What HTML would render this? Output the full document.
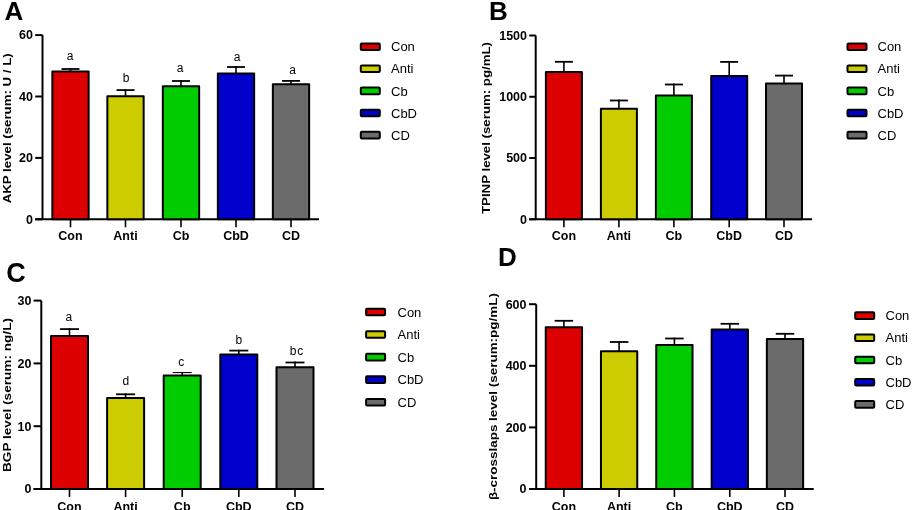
<!DOCTYPE html>
<html><head><meta charset="utf-8"><style>
html,body{margin:0;padding:0;background:#fff;width:912px;height:510px;overflow:hidden}
svg{display:block;will-change:transform}
text{font-family:"Liberation Sans", sans-serif;fill:#000}
</style></head><body>
<svg width="912" height="510" viewBox="0 0 912 510" shape-rendering="auto">
<line x1="42.5" y1="35.1" x2="42.5" y2="219.3" stroke="#000" stroke-width="2"/>
<line x1="35.2" y1="219.3" x2="319" y2="219.3" stroke="#000" stroke-width="2"/>
<line x1="35.2" y1="219.30" x2="42.5" y2="219.30" stroke="#000" stroke-width="2"/>
<text x="33" y="223.60" text-anchor="end" font-size="12.5" font-weight="bold">0</text>
<line x1="35.2" y1="157.90" x2="42.5" y2="157.90" stroke="#000" stroke-width="2"/>
<text x="33" y="162.20" text-anchor="end" font-size="12.5" font-weight="bold">20</text>
<line x1="35.2" y1="96.50" x2="42.5" y2="96.50" stroke="#000" stroke-width="2"/>
<text x="33" y="100.80" text-anchor="end" font-size="12.5" font-weight="bold">40</text>
<line x1="35.2" y1="35.10" x2="42.5" y2="35.10" stroke="#000" stroke-width="2"/>
<text x="33" y="39.40" text-anchor="end" font-size="12.5" font-weight="bold">60</text>
<rect x="52.35" y="71.50" width="36.30" height="147.80" fill="#dd0000" stroke="#000" stroke-width="2" stroke-linejoin="round"/>
<line x1="70.50" y1="68.10" x2="70.50" y2="71.50" stroke="#000" stroke-width="1.6"/>
<line x1="61.50" y1="69.00" x2="79.50" y2="69.00" stroke="#000" stroke-width="1.8"/>
<line x1="70.50" y1="219.3" x2="70.50" y2="227.3" stroke="#000" stroke-width="1.6"/>
<text x="70.50" y="240.3" text-anchor="middle" font-size="12.5" font-weight="bold">Con</text>
<text x="70.20" y="60.30" text-anchor="middle" font-size="12">a</text>
<rect x="107.35" y="96.20" width="36.30" height="123.10" fill="#cccc00" stroke="#000" stroke-width="2" stroke-linejoin="round"/>
<line x1="125.50" y1="89.20" x2="125.50" y2="96.20" stroke="#000" stroke-width="1.6"/>
<line x1="116.50" y1="90.10" x2="134.50" y2="90.10" stroke="#000" stroke-width="1.8"/>
<line x1="125.50" y1="219.3" x2="125.50" y2="227.3" stroke="#000" stroke-width="1.6"/>
<text x="125.50" y="240.3" text-anchor="middle" font-size="12.5" font-weight="bold">Anti</text>
<text x="126.20" y="82.00" text-anchor="middle" font-size="12">b</text>
<rect x="162.85" y="86.20" width="36.30" height="133.10" fill="#00cc00" stroke="#000" stroke-width="2" stroke-linejoin="round"/>
<line x1="181.00" y1="80.10" x2="181.00" y2="86.20" stroke="#000" stroke-width="1.6"/>
<line x1="172.00" y1="81.00" x2="190.00" y2="81.00" stroke="#000" stroke-width="1.8"/>
<line x1="181.00" y1="219.3" x2="181.00" y2="227.3" stroke="#000" stroke-width="1.6"/>
<text x="181.00" y="240.3" text-anchor="middle" font-size="12.5" font-weight="bold">Cb</text>
<text x="180.00" y="72.30" text-anchor="middle" font-size="12">a</text>
<rect x="217.85" y="73.40" width="36.30" height="145.90" fill="#0000cc" stroke="#000" stroke-width="2" stroke-linejoin="round"/>
<line x1="236.00" y1="66.10" x2="236.00" y2="73.40" stroke="#000" stroke-width="1.6"/>
<line x1="227.00" y1="67.00" x2="245.00" y2="67.00" stroke="#000" stroke-width="1.8"/>
<line x1="236.00" y1="219.3" x2="236.00" y2="227.3" stroke="#000" stroke-width="1.6"/>
<text x="236.00" y="240.3" text-anchor="middle" font-size="12.5" font-weight="bold">CbD</text>
<text x="237.00" y="60.50" text-anchor="middle" font-size="12">a</text>
<rect x="272.85" y="84.30" width="36.30" height="135.00" fill="#6b6b6b" stroke="#000" stroke-width="2" stroke-linejoin="round"/>
<line x1="291.00" y1="80.00" x2="291.00" y2="84.30" stroke="#000" stroke-width="1.6"/>
<line x1="282.00" y1="80.90" x2="300.00" y2="80.90" stroke="#000" stroke-width="1.8"/>
<line x1="291.00" y1="219.3" x2="291.00" y2="227.3" stroke="#000" stroke-width="1.6"/>
<text x="291.00" y="240.3" text-anchor="middle" font-size="12.5" font-weight="bold">CD</text>
<text x="292.50" y="73.70" text-anchor="middle" font-size="12">a</text>
<text transform="translate(11.2,128.3) rotate(-90)" text-anchor="middle" font-size="11.5" font-weight="bold" textLength="150" lengthAdjust="spacingAndGlyphs">AKP level (serum: U / L)</text>
<text x="4.6" y="19.8" font-size="26" font-weight="bold">A</text>
<rect x="360.80" y="43.40" width="19" height="6.6" rx="1" fill="#dd0000" stroke="#000" stroke-width="2" stroke-linejoin="round"/>
<text x="391.00" y="51.30" font-size="13">Con</text>
<rect x="360.80" y="65.50" width="19" height="6.6" rx="1" fill="#cccc00" stroke="#000" stroke-width="2" stroke-linejoin="round"/>
<text x="391.00" y="73.40" font-size="13">Anti</text>
<rect x="360.80" y="87.60" width="19" height="6.6" rx="1" fill="#00cc00" stroke="#000" stroke-width="2" stroke-linejoin="round"/>
<text x="391.00" y="95.50" font-size="13">Cb</text>
<rect x="360.80" y="109.70" width="19" height="6.6" rx="1" fill="#0000cc" stroke="#000" stroke-width="2" stroke-linejoin="round"/>
<text x="391.00" y="117.60" font-size="13">CbD</text>
<rect x="360.80" y="131.80" width="19" height="6.6" rx="1" fill="#6b6b6b" stroke="#000" stroke-width="2" stroke-linejoin="round"/>
<text x="391.00" y="139.70" font-size="13">CD</text>
<line x1="535.7" y1="35.5" x2="535.7" y2="219.3" stroke="#000" stroke-width="2"/>
<line x1="529.2" y1="219.3" x2="812.1" y2="219.3" stroke="#000" stroke-width="2"/>
<line x1="529.2" y1="219.30" x2="535.7" y2="219.30" stroke="#000" stroke-width="2"/>
<text x="527" y="223.60" text-anchor="end" font-size="12.5" font-weight="bold">0</text>
<line x1="529.2" y1="158.03" x2="535.7" y2="158.03" stroke="#000" stroke-width="2"/>
<text x="527" y="162.33" text-anchor="end" font-size="12.5" font-weight="bold">500</text>
<line x1="529.2" y1="96.77" x2="535.7" y2="96.77" stroke="#000" stroke-width="2"/>
<text x="527" y="101.07" text-anchor="end" font-size="12.5" font-weight="bold">1000</text>
<line x1="529.2" y1="35.50" x2="535.7" y2="35.50" stroke="#000" stroke-width="2"/>
<text x="527" y="39.80" text-anchor="end" font-size="12.5" font-weight="bold">1500</text>
<rect x="545.90" y="72.10" width="36.00" height="147.20" fill="#dd0000" stroke="#000" stroke-width="2" stroke-linejoin="round"/>
<line x1="563.90" y1="60.90" x2="563.90" y2="72.10" stroke="#000" stroke-width="1.6"/>
<line x1="554.90" y1="61.80" x2="572.90" y2="61.80" stroke="#000" stroke-width="1.8"/>
<line x1="563.90" y1="219.3" x2="563.90" y2="227.3" stroke="#000" stroke-width="1.6"/>
<text x="563.90" y="240.3" text-anchor="middle" font-size="12.5" font-weight="bold">Con</text>
<rect x="600.90" y="108.80" width="36.00" height="110.50" fill="#cccc00" stroke="#000" stroke-width="2" stroke-linejoin="round"/>
<line x1="618.90" y1="99.60" x2="618.90" y2="108.80" stroke="#000" stroke-width="1.6"/>
<line x1="609.90" y1="100.50" x2="627.90" y2="100.50" stroke="#000" stroke-width="1.8"/>
<line x1="618.90" y1="219.3" x2="618.90" y2="227.3" stroke="#000" stroke-width="1.6"/>
<text x="618.90" y="240.3" text-anchor="middle" font-size="12.5" font-weight="bold">Anti</text>
<rect x="655.90" y="95.60" width="36.00" height="123.70" fill="#00cc00" stroke="#000" stroke-width="2" stroke-linejoin="round"/>
<line x1="673.90" y1="83.60" x2="673.90" y2="95.60" stroke="#000" stroke-width="1.6"/>
<line x1="664.90" y1="84.50" x2="682.90" y2="84.50" stroke="#000" stroke-width="1.8"/>
<line x1="673.90" y1="219.3" x2="673.90" y2="227.3" stroke="#000" stroke-width="1.6"/>
<text x="673.90" y="240.3" text-anchor="middle" font-size="12.5" font-weight="bold">Cb</text>
<rect x="711.20" y="76.10" width="36.00" height="143.20" fill="#0000cc" stroke="#000" stroke-width="2" stroke-linejoin="round"/>
<line x1="729.20" y1="61.00" x2="729.20" y2="76.10" stroke="#000" stroke-width="1.6"/>
<line x1="720.20" y1="61.90" x2="738.20" y2="61.90" stroke="#000" stroke-width="1.8"/>
<line x1="729.20" y1="219.3" x2="729.20" y2="227.3" stroke="#000" stroke-width="1.6"/>
<text x="729.20" y="240.3" text-anchor="middle" font-size="12.5" font-weight="bold">CbD</text>
<rect x="766.00" y="83.40" width="36.00" height="135.90" fill="#6b6b6b" stroke="#000" stroke-width="2" stroke-linejoin="round"/>
<line x1="784.00" y1="74.70" x2="784.00" y2="83.40" stroke="#000" stroke-width="1.6"/>
<line x1="775.00" y1="75.60" x2="793.00" y2="75.60" stroke="#000" stroke-width="1.8"/>
<line x1="784.00" y1="219.3" x2="784.00" y2="227.3" stroke="#000" stroke-width="1.6"/>
<text x="784.00" y="240.3" text-anchor="middle" font-size="12.5" font-weight="bold">CD</text>
<text transform="translate(490,128) rotate(-90)" text-anchor="middle" font-size="11.5" font-weight="bold" textLength="172" lengthAdjust="spacingAndGlyphs">TPINP level (serum: pg/mL)</text>
<text x="489" y="19.8" font-size="26" font-weight="bold">B</text>
<rect x="847.50" y="43.40" width="19" height="6.6" rx="1" fill="#dd0000" stroke="#000" stroke-width="2" stroke-linejoin="round"/>
<text x="877.50" y="51.30" font-size="13">Con</text>
<rect x="847.50" y="65.50" width="19" height="6.6" rx="1" fill="#cccc00" stroke="#000" stroke-width="2" stroke-linejoin="round"/>
<text x="877.50" y="73.40" font-size="13">Anti</text>
<rect x="847.50" y="87.60" width="19" height="6.6" rx="1" fill="#00cc00" stroke="#000" stroke-width="2" stroke-linejoin="round"/>
<text x="877.50" y="95.50" font-size="13">Cb</text>
<rect x="847.50" y="109.70" width="19" height="6.6" rx="1" fill="#0000cc" stroke="#000" stroke-width="2" stroke-linejoin="round"/>
<text x="877.50" y="117.60" font-size="13">CbD</text>
<rect x="847.50" y="131.80" width="19" height="6.6" rx="1" fill="#6b6b6b" stroke="#000" stroke-width="2" stroke-linejoin="round"/>
<text x="877.50" y="139.70" font-size="13">CD</text>
<line x1="41.3" y1="300.6" x2="41.3" y2="489" stroke="#000" stroke-width="2"/>
<line x1="33.6" y1="489" x2="324" y2="489" stroke="#000" stroke-width="2"/>
<line x1="33.6" y1="489.00" x2="41.3" y2="489.00" stroke="#000" stroke-width="2"/>
<text x="31.5" y="493.30" text-anchor="end" font-size="12.5" font-weight="bold">0</text>
<line x1="33.6" y1="426.20" x2="41.3" y2="426.20" stroke="#000" stroke-width="2"/>
<text x="31.5" y="430.50" text-anchor="end" font-size="12.5" font-weight="bold">10</text>
<line x1="33.6" y1="363.40" x2="41.3" y2="363.40" stroke="#000" stroke-width="2"/>
<text x="31.5" y="367.70" text-anchor="end" font-size="12.5" font-weight="bold">20</text>
<line x1="33.6" y1="300.60" x2="41.3" y2="300.60" stroke="#000" stroke-width="2"/>
<text x="31.5" y="304.90" text-anchor="end" font-size="12.5" font-weight="bold">30</text>
<rect x="51.00" y="335.90" width="37.00" height="153.10" fill="#dd0000" stroke="#000" stroke-width="2" stroke-linejoin="round"/>
<line x1="69.50" y1="328.20" x2="69.50" y2="335.90" stroke="#000" stroke-width="1.6"/>
<line x1="60.00" y1="329.10" x2="79.00" y2="329.10" stroke="#000" stroke-width="1.8"/>
<line x1="69.50" y1="489" x2="69.50" y2="497" stroke="#000" stroke-width="1.6"/>
<text x="69.50" y="510.5" text-anchor="middle" font-size="12.5" font-weight="bold">Con</text>
<text x="68.80" y="321.20" text-anchor="middle" font-size="12">a</text>
<rect x="107.10" y="398.10" width="37.00" height="90.90" fill="#cccc00" stroke="#000" stroke-width="2" stroke-linejoin="round"/>
<line x1="125.60" y1="393.40" x2="125.60" y2="398.10" stroke="#000" stroke-width="1.6"/>
<line x1="116.10" y1="394.30" x2="135.10" y2="394.30" stroke="#000" stroke-width="1.8"/>
<line x1="125.60" y1="489" x2="125.60" y2="497" stroke="#000" stroke-width="1.6"/>
<text x="125.60" y="510.5" text-anchor="middle" font-size="12.5" font-weight="bold">Anti</text>
<text x="125.80" y="385.20" text-anchor="middle" font-size="12">d</text>
<rect x="163.70" y="375.50" width="37.00" height="113.50" fill="#00cc00" stroke="#000" stroke-width="2" stroke-linejoin="round"/>
<line x1="182.20" y1="372.00" x2="182.20" y2="375.50" stroke="#000" stroke-width="1.6"/>
<line x1="172.70" y1="372.55" x2="191.70" y2="372.55" stroke="#000" stroke-width="1.1"/>
<line x1="182.20" y1="489" x2="182.20" y2="497" stroke="#000" stroke-width="1.6"/>
<text x="182.20" y="510.5" text-anchor="middle" font-size="12.5" font-weight="bold">Cb</text>
<text x="181.20" y="365.50" text-anchor="middle" font-size="12">c</text>
<rect x="220.30" y="354.60" width="37.00" height="134.40" fill="#0000cc" stroke="#000" stroke-width="2" stroke-linejoin="round"/>
<line x1="238.80" y1="349.70" x2="238.80" y2="354.60" stroke="#000" stroke-width="1.6"/>
<line x1="229.30" y1="350.60" x2="248.30" y2="350.60" stroke="#000" stroke-width="1.8"/>
<line x1="238.80" y1="489" x2="238.80" y2="497" stroke="#000" stroke-width="1.6"/>
<text x="238.80" y="510.5" text-anchor="middle" font-size="12.5" font-weight="bold">CbD</text>
<text x="238.80" y="343.60" text-anchor="middle" font-size="12">b</text>
<rect x="276.50" y="367.20" width="37.00" height="121.80" fill="#6b6b6b" stroke="#000" stroke-width="2" stroke-linejoin="round"/>
<line x1="295.00" y1="361.60" x2="295.00" y2="367.20" stroke="#000" stroke-width="1.6"/>
<line x1="285.50" y1="362.50" x2="304.50" y2="362.50" stroke="#000" stroke-width="1.8"/>
<line x1="295.00" y1="489" x2="295.00" y2="497" stroke="#000" stroke-width="1.6"/>
<text x="295.00" y="510.5" text-anchor="middle" font-size="12.5" font-weight="bold">CD</text>
<text x="297.00" y="355.40" text-anchor="middle" font-size="12" letter-spacing="0.9">bc</text>
<text transform="translate(10.8,395) rotate(-90)" text-anchor="middle" font-size="11.5" font-weight="bold" textLength="154" lengthAdjust="spacingAndGlyphs">BGP level (serum: ng/L)</text>
<text x="6.2" y="281.8" font-size="27" font-weight="bold">C</text>
<rect x="366.10" y="308.70" width="19" height="6.6" rx="1" fill="#dd0000" stroke="#000" stroke-width="2" stroke-linejoin="round"/>
<text x="397.50" y="316.60" font-size="13">Con</text>
<rect x="366.10" y="331.25" width="19" height="6.6" rx="1" fill="#cccc00" stroke="#000" stroke-width="2" stroke-linejoin="round"/>
<text x="397.50" y="339.15" font-size="13">Anti</text>
<rect x="366.10" y="353.80" width="19" height="6.6" rx="1" fill="#00cc00" stroke="#000" stroke-width="2" stroke-linejoin="round"/>
<text x="397.50" y="361.70" font-size="13">Cb</text>
<rect x="366.10" y="376.35" width="19" height="6.6" rx="1" fill="#0000cc" stroke="#000" stroke-width="2" stroke-linejoin="round"/>
<text x="397.50" y="384.25" font-size="13">CbD</text>
<rect x="366.10" y="398.90" width="19" height="6.6" rx="1" fill="#6b6b6b" stroke="#000" stroke-width="2" stroke-linejoin="round"/>
<text x="397.50" y="406.80" font-size="13">CD</text>
<line x1="536.2" y1="304.2" x2="536.2" y2="489" stroke="#000" stroke-width="2"/>
<line x1="529" y1="489" x2="813.7" y2="489" stroke="#000" stroke-width="2"/>
<line x1="529" y1="489.00" x2="536.2" y2="489.00" stroke="#000" stroke-width="2"/>
<text x="526.5" y="493.30" text-anchor="end" font-size="12.5" font-weight="bold">0</text>
<line x1="529" y1="427.40" x2="536.2" y2="427.40" stroke="#000" stroke-width="2"/>
<text x="526.5" y="431.70" text-anchor="end" font-size="12.5" font-weight="bold">200</text>
<line x1="529" y1="365.80" x2="536.2" y2="365.80" stroke="#000" stroke-width="2"/>
<text x="526.5" y="370.10" text-anchor="end" font-size="12.5" font-weight="bold">400</text>
<line x1="529" y1="304.20" x2="536.2" y2="304.20" stroke="#000" stroke-width="2"/>
<text x="526.5" y="308.50" text-anchor="end" font-size="12.5" font-weight="bold">600</text>
<rect x="545.75" y="327.20" width="36.30" height="161.80" fill="#dd0000" stroke="#000" stroke-width="2" stroke-linejoin="round"/>
<line x1="563.90" y1="319.90" x2="563.90" y2="327.20" stroke="#000" stroke-width="1.6"/>
<line x1="554.65" y1="320.80" x2="573.15" y2="320.80" stroke="#000" stroke-width="1.8"/>
<line x1="563.90" y1="489" x2="563.90" y2="497" stroke="#000" stroke-width="1.6"/>
<text x="563.90" y="510.5" text-anchor="middle" font-size="12.5" font-weight="bold">Con</text>
<rect x="600.95" y="351.20" width="36.30" height="137.80" fill="#cccc00" stroke="#000" stroke-width="2" stroke-linejoin="round"/>
<line x1="619.10" y1="341.10" x2="619.10" y2="351.20" stroke="#000" stroke-width="1.6"/>
<line x1="609.85" y1="342.00" x2="628.35" y2="342.00" stroke="#000" stroke-width="1.8"/>
<line x1="619.10" y1="489" x2="619.10" y2="497" stroke="#000" stroke-width="1.6"/>
<text x="619.10" y="510.5" text-anchor="middle" font-size="12.5" font-weight="bold">Anti</text>
<rect x="656.25" y="344.90" width="36.30" height="144.10" fill="#00cc00" stroke="#000" stroke-width="2" stroke-linejoin="round"/>
<line x1="674.40" y1="337.60" x2="674.40" y2="344.90" stroke="#000" stroke-width="1.6"/>
<line x1="665.15" y1="338.50" x2="683.65" y2="338.50" stroke="#000" stroke-width="1.8"/>
<line x1="674.40" y1="489" x2="674.40" y2="497" stroke="#000" stroke-width="1.6"/>
<text x="674.40" y="510.5" text-anchor="middle" font-size="12.5" font-weight="bold">Cb</text>
<rect x="711.65" y="329.60" width="36.30" height="159.40" fill="#0000cc" stroke="#000" stroke-width="2" stroke-linejoin="round"/>
<line x1="729.80" y1="322.90" x2="729.80" y2="329.60" stroke="#000" stroke-width="1.6"/>
<line x1="720.55" y1="323.80" x2="739.05" y2="323.80" stroke="#000" stroke-width="1.8"/>
<line x1="729.80" y1="489" x2="729.80" y2="497" stroke="#000" stroke-width="1.6"/>
<text x="729.80" y="510.5" text-anchor="middle" font-size="12.5" font-weight="bold">CbD</text>
<rect x="766.85" y="338.90" width="36.30" height="150.10" fill="#6b6b6b" stroke="#000" stroke-width="2" stroke-linejoin="round"/>
<line x1="785.00" y1="332.90" x2="785.00" y2="338.90" stroke="#000" stroke-width="1.6"/>
<line x1="775.75" y1="333.80" x2="794.25" y2="333.80" stroke="#000" stroke-width="1.8"/>
<line x1="785.00" y1="489" x2="785.00" y2="497" stroke="#000" stroke-width="1.6"/>
<text x="785.00" y="510.5" text-anchor="middle" font-size="12.5" font-weight="bold">CD</text>
<text transform="translate(497.3,396.6) rotate(-90)" text-anchor="middle" font-size="11.5" font-weight="bold" textLength="207" lengthAdjust="spacingAndGlyphs">β-crosslaps level (serum:pg/mL)</text>
<text x="498" y="266" font-size="26" font-weight="bold">D</text>
<rect x="855.20" y="312.30" width="19" height="6.6" rx="1" fill="#dd0000" stroke="#000" stroke-width="2" stroke-linejoin="round"/>
<text x="885.50" y="320.20" font-size="13">Con</text>
<rect x="855.20" y="334.50" width="19" height="6.6" rx="1" fill="#cccc00" stroke="#000" stroke-width="2" stroke-linejoin="round"/>
<text x="885.50" y="342.40" font-size="13">Anti</text>
<rect x="855.20" y="356.70" width="19" height="6.6" rx="1" fill="#00cc00" stroke="#000" stroke-width="2" stroke-linejoin="round"/>
<text x="885.50" y="364.60" font-size="13">Cb</text>
<rect x="855.20" y="378.90" width="19" height="6.6" rx="1" fill="#0000cc" stroke="#000" stroke-width="2" stroke-linejoin="round"/>
<text x="885.50" y="386.80" font-size="13">CbD</text>
<rect x="855.20" y="401.10" width="19" height="6.6" rx="1" fill="#6b6b6b" stroke="#000" stroke-width="2" stroke-linejoin="round"/>
<text x="885.50" y="409.00" font-size="13">CD</text>
</svg>
</body></html>
